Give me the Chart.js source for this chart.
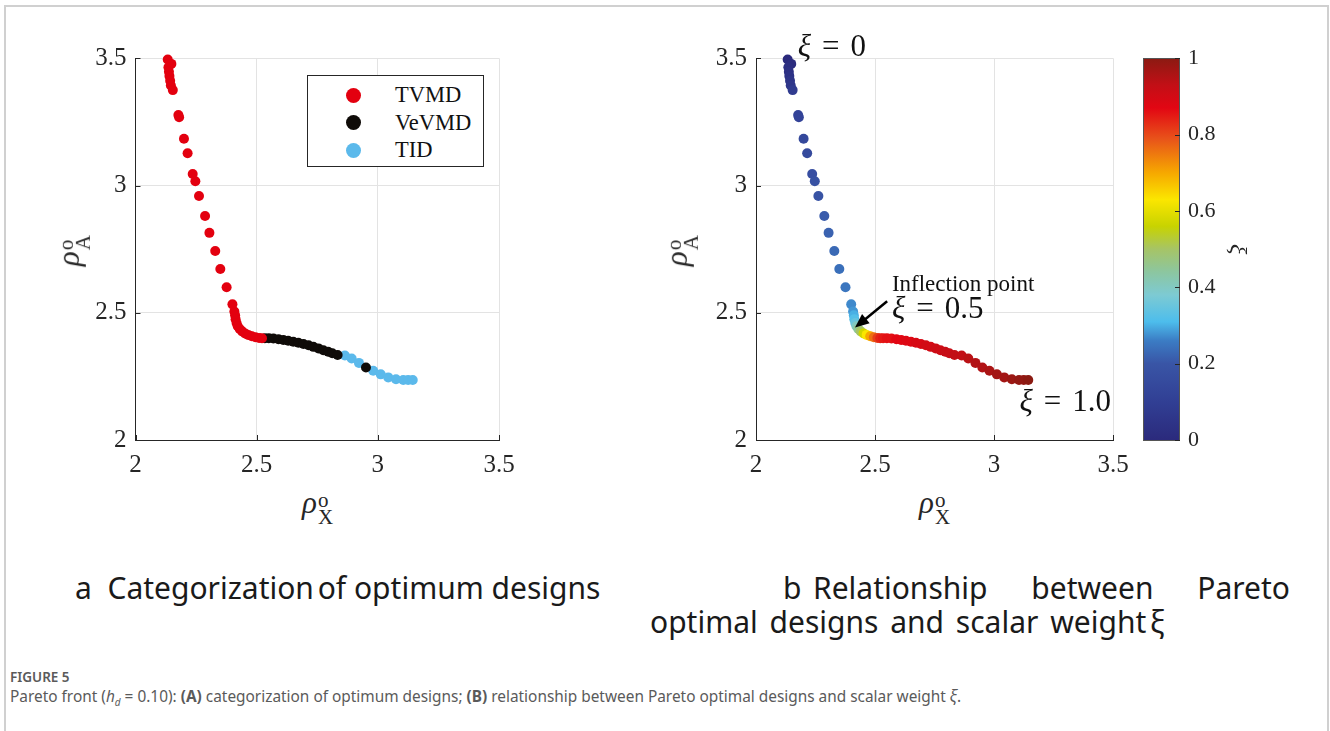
<!DOCTYPE html>
<html><head><meta charset="utf-8">
<script src="https://cdn.jsdelivr.net/npm/chart.js@4.4.0/dist/chart.umd.min.js"></script>
<style>
html,body{margin:0;padding:0;background:#fff;}
body{width:1330px;height:731px;position:relative;overflow:hidden;}
.frame{position:absolute;left:4px;top:5px;width:1321px;height:800px;border:2px solid #d0d0d0;border-bottom:none;}
.box{position:absolute;top:0;height:480px;}
.ax{position:absolute;font-family:'Liberation Serif',serif;color:#262626;white-space:nowrap;line-height:1;}
.ax i{font-size:31px;}
.ax .ss{display:inline-block;vertical-align:middle;font-size:21px;line-height:17px;text-align:left;margin-left:1px;}
.rot{transform:rotate(-90deg);transform-origin:center center;}
#legend{position:absolute;left:307px;top:75px;width:175px;height:90px;border:1px solid #262626;background:#fff;font-family:'Liberation Serif',serif;font-size:22.5px;color:#111;}
#legend .row{position:absolute;left:0;width:100%;height:26px;line-height:26px;}
#legend .dot{position:absolute;left:38px;top:5.5px;width:15px;height:15px;border-radius:50%;}
#legend .t{position:absolute;left:87px;top:0;}
.cap{position:absolute;font-family:'Noto Sans',sans-serif;font-size:30px;color:#1a1a1a;line-height:34px;white-space:nowrap;}
.fig{position:absolute;left:10px;font-family:'Noto Sans',sans-serif;color:#5a5a5a;white-space:nowrap;}
</style>
</head><body>
<div class="frame"></div>
<div class="box" style="left:0;width:620px;"><canvas id="cA"></canvas></div>
<div class="box" style="left:620px;width:520px;"><canvas id="cB"></canvas></div>
<div class="box" style="left:1140px;width:190px;"><canvas id="cC"></canvas></div>
<div id="legend"></div>

<div class="ax" style="left:302px;top:487px;"><i>ρ</i><span class="ss">o<br>X</span></div>
<div class="ax" style="left:919px;top:487px;"><i>ρ</i><span class="ss">o<br>X</span></div>
<div class="ax rot" style="left:57px;top:231px;"><i>ρ</i><span class="ss">o<br>A</span></div>
<div class="ax rot" style="left:665px;top:231px;"><i>ρ</i><span class="ss">o<br>A</span></div>

<div class="cap" style="left:75px;top:571px;">a&nbsp;&nbsp;Categorization<span style="margin-left:-4px"> </span>of optimum designs</div>
<div class="cap" style="left:783px;top:571px;">b</div>
<div class="cap" style="left:813px;top:571px;width:477px;text-align:justify;text-align-last:justify;white-space:normal;">Relationship between Pareto</div>
<div class="cap" style="left:650px;top:605px;word-spacing:4px;">optimal designs and scalar weight<span style="margin-left:-8px"> </span>ξ</div>
<div class="fig" style="top:668px;font-size:13.5px;font-weight:600;">FIGURE 5</div>
<div class="fig" style="top:686px;font-size:15.4px;">Pareto front (<i>h<sub style="font-size:10px">d</sub></i> = 0.10): <b>(A)</b> categorization of optimum designs; <b>(B)</b> relationship between Pareto optimal designs and scalar weight <i>ξ</i>.</div>

<script>
// ---- data ----
const frontX = [2.133,2.148,2.136,2.138,2.140,2.143,2.146,2.154,2.177,2.180,2.200,2.215,2.236,2.247,2.262,2.287,2.305,2.329,2.350,2.376,2.400,
  2.408,2.411,2.413,2.417,2.422,2.430,2.440,2.452,2.465,2.480,2.495,2.510,2.522,
  2.534,2.550,2.569,2.590,2.610,2.630,2.651,2.672,2.693,2.714,2.734,2.755,2.775,2.795,2.812,2.834,
  2.864,2.892,2.922,2.951,2.981,3.012,3.043,3.075,3.105,3.125,3.144];
const frontY = [3.495,3.478,3.465,3.447,3.430,3.412,3.393,3.375,3.277,3.268,3.184,3.127,3.045,3.017,2.959,2.880,2.814,2.743,2.672,2.600,2.533,
  2.505,2.490,2.475,2.460,2.447,2.436,2.427,2.419,2.413,2.408,2.404,2.401,2.400,
  2.400,2.400,2.399,2.396,2.393,2.390,2.386,2.382,2.377,2.372,2.366,2.360,2.353,2.347,2.341,2.334,
  2.332,2.320,2.303,2.285,2.272,2.258,2.246,2.239,2.236,2.236,2.236];
const frontXi = [0.00,0.01,0.02,0.03,0.04,0.05,0.06,0.08,0.12,0.12,0.14,0.15,0.17,0.18,0.19,0.21,0.22,0.23,0.24,0.25,0.27,
  0.28,0.30,0.32,0.35,0.40,0.45,0.50,0.57,0.63,0.70,0.76,0.81,0.84,
  0.85,0.86,0.86,0.87,0.87,0.88,0.88,0.89,0.89,0.90,0.90,0.91,0.91,0.92,0.92,0.93,
  0.93,0.94,0.95,0.95,0.96,0.97,0.97,0.98,0.99,0.99,1.00];
const frontClass = ['TVMD','TVMD','TVMD','TVMD','TVMD','TVMD','TVMD','TVMD','TVMD','TVMD','TVMD','TVMD','TVMD','TVMD','TVMD','TVMD','TVMD','TVMD','TVMD','TVMD','TVMD',
  'TVMD','TVMD','TVMD','TVMD','TVMD','TVMD','TVMD','TVMD','TVMD','TVMD','TVMD','TVMD','TVMD',
  'VeVMD','VeVMD','VeVMD','VeVMD','VeVMD','VeVMD','VeVMD','VeVMD','VeVMD','VeVMD','VeVMD','VeVMD','VeVMD','VeVMD','VeVMD','VeVMD',
  'TID','TID','TID','VeVMD','TID','TID','TID','TID','TID','TID','TID'];
const designClasses = ['TVMD','VeVMD','TID'];
const classColors = ['#e3000f','#0f0b08','#5bb9eb'];
const rhoTicks = [2,2.5,3,3.5];
const xiTicks = [0,0.2,0.4,0.6,0.8,1];

// ---- style helpers ----
const cmap = [[0,'#2b2a7c'],[0.1,'#313f94'],[0.2,'#3955a6'],[0.26,'#3b7cc4'],[0.31,'#4dbdec'],[0.38,'#7dcad3'],[0.44,'#8cc6a0'],[0.5,'#a6c466'],[0.56,'#c8d300'],[0.63,'#fbe600'],[0.7,'#f6a800'],[0.79,'#e8521a'],[0.87,'#e20613'],[0.93,'#c20f16'],[1,'#8b1a12']];
function hex2rgb(h){return [1,3,5].map(i=>parseInt(h.substr(i,2),16));}
function colorAt(v){
  for(let i=1;i<cmap.length;i++){ if(v<=cmap[i][0]){ const [a,ca]=cmap[i-1],[b,cb]=cmap[i]; const t=(v-a)/(b-a);
    const p=hex2rgb(ca),q=hex2rgb(cb); return 'rgb('+p.map((c,k)=>Math.round(c+(q[k]-c)*t)).join(',')+')'; } }
  return cmap[cmap.length-1][1];
}
const serif = 'Liberation Serif';
const tickColor = '#262626';
Chart.defaults.animation = false;

const inwardTicks = {
  id:'inwardTicks',
  afterDraw(chart){
    const {ctx, chartArea:a} = chart; const len = 5;
    ctx.save(); ctx.strokeStyle=tickColor; ctx.lineWidth=1;
    ['x','y'].forEach(id=>{ const s=chart.scales[id]; if(!s||!s.options.display) return;
      s.ticks.forEach(t=>{ const p=Math.round(s.getPixelForValue(t.value))+0.5; ctx.beginPath();
        if(id==='x'){ctx.moveTo(p,a.bottom);ctx.lineTo(p,a.bottom-len);} else {ctx.moveTo(a.left,p);ctx.lineTo(a.left+len,p);} ctx.stroke(); });
    });
    ctx.restore();
  }
};

function rhoScales(){
  const common = ()=>({type:'linear',min:2,max:3.5,
    afterBuildTicks:s=>{s.ticks=rhoTicks.map(v=>({value:v}));},
    ticks:{color:tickColor,font:{family:serif,size:25},padding:10,callback:v=>String(v)},
    grid:{color:'#e3e3e3',lineWidth:1,drawTicks:false},
    border:{display:true,color:tickColor,width:1}});
  const x = common(); x.afterFit = s=>{s.height=40;};
  const y = common(); y.afterFit = s=>{s.width=50;}; y.ticks = Object.assign({},y.ticks,{padding:9});
  return {x,y};
}

// ---- chart A: categorisation ----
const chartA = new Chart(document.getElementById('cA'),{
  type:'scatter',
  data:{datasets:designClasses.map((c,k)=>({
    label:c,
    data:frontX.map((x,i)=>({x,y:frontY[i],c:frontClass[i]})).filter(p=>p.c===c),
    pointRadius:5,pointHoverRadius:5,pointBorderWidth:0,clip:false,
    backgroundColor:classColors[k],borderColor:classColors[k]}))},
  options:{responsive:true,maintainAspectRatio:false,
    layout:{padding:{left:85.5,right:121,top:58.3,bottom:0}},
    plugins:{legend:{display:false},tooltip:{enabled:false}},
    scales:rhoScales()},
  plugins:[inwardTicks]
});

// html legend generated from datasets
const lg = document.getElementById('legend');
chartA.data.datasets.forEach((ds,k)=>{
  const r=document.createElement('div'); r.className='row'; r.style.top=(6+k*27.5)+'px';
  r.innerHTML='<span class="dot" style="background:'+ds.backgroundColor+'"></span><span class="t">'+ds.label+'</span>';
  lg.appendChild(r);
});

// ---- chart B: colored by xi ----
function drawParts(ctx,x,y,parts,size,gap){
  let cx=x;
  parts.forEach(([txt,sty])=>{ ctx.font=(sty?sty+' ':'')+size+'px "'+serif+'"'; ctx.fillText(txt,cx,y); cx+=ctx.measureText(txt).width+gap; });
}
const xiNotes = {
  id:'xiNotes',
  afterDraw(chart){
    const {ctx} = chart; const X=chart.scales.x, Y=chart.scales.y;
    ctx.save(); ctx.fillStyle='#111'; ctx.textBaseline='middle'; ctx.textAlign='left';
    drawParts(ctx,X.getPixelForValue(2.175),Y.getPixelForValue(3.54),[['ξ','italic'],['=',''],['0','']],31,11);
    ctx.font='23px "'+serif+'"'; ctx.fillText('Inflection point',X.getPixelForValue(2.571),Y.getPixelForValue(2.611));
    drawParts(ctx,X.getPixelForValue(2.571),Y.getPixelForValue(2.513),[['ξ','italic'],['=',''],['0.5','']],31,11);
    drawParts(ctx,X.getPixelForValue(3.107),Y.getPixelForValue(2.146),[['ξ','italic'],['=',''],['1.0','']],31,11);
    // arrow
    const x1=X.getPixelForValue(2.551),y1=Y.getPixelForValue(2.545),x2=X.getPixelForValue(2.416),y2=Y.getPixelForValue(2.442);
    const ang=Math.atan2(y2-y1,x2-x1), hl=14, hw=6;
    ctx.strokeStyle='#000'; ctx.lineWidth=2.5; ctx.beginPath(); ctx.moveTo(x1,y1);
    ctx.lineTo(x2-Math.cos(ang)*hl*0.8,y2-Math.sin(ang)*hl*0.8); ctx.stroke();
    ctx.fillStyle='#000'; ctx.beginPath(); ctx.moveTo(x2,y2);
    ctx.lineTo(x2-Math.cos(ang)*hl-Math.sin(ang)*hw, y2-Math.sin(ang)*hl+Math.cos(ang)*hw);
    ctx.lineTo(x2-Math.cos(ang)*hl+Math.sin(ang)*hw, y2-Math.sin(ang)*hl-Math.cos(ang)*hw);
    ctx.closePath(); ctx.fill();
    ctx.restore();
  }
};
const chartB = new Chart(document.getElementById('cB'),{
  type:'scatter',
  data:{datasets:[{label:'ξ',
    data:frontX.map((x,i)=>({x,y:frontY[i]})),
    pointRadius:5,pointHoverRadius:5,pointBorderWidth:0,clip:false,
    pointBackgroundColor:frontXi.map(colorAt),pointBorderColor:frontXi.map(colorAt)}]},
  options:{responsive:true,maintainAspectRatio:false,
    layout:{padding:{left:86,right:27,top:58.3,bottom:0}},
    plugins:{legend:{display:false},tooltip:{enabled:false}},
    scales:rhoScales()},
  plugins:[inwardTicks,xiNotes]
});

// ---- colorbar ----
const colorbar = {
  id:'colorbar',
  beforeDatasetsDraw(chart){
    const {ctx,chartArea:a}=chart; const Y=chart.scales.y;
    const g=ctx.createLinearGradient(0,Y.getPixelForValue(0),0,Y.getPixelForValue(1));
    cmap.forEach(([v,c])=>g.addColorStop(v,c));
    ctx.save(); ctx.fillStyle=g; ctx.fillRect(a.left,a.top,a.right-a.left,a.bottom-a.top);
    ctx.strokeStyle='#555'; ctx.lineWidth=1; ctx.strokeRect(Math.round(a.left)+0.5,Math.round(a.top)+0.5,Math.round(a.right-a.left)-1,Math.round(a.bottom-a.top));
    ctx.strokeStyle=tickColor;
    Y.ticks.forEach(t=>{const p=Math.round(Y.getPixelForValue(t.value))+0.5; ctx.beginPath(); ctx.moveTo(a.right,p); ctx.lineTo(a.right-5,p); ctx.stroke();});
    ctx.restore();
  }
};
new Chart(document.getElementById('cC'),{
  type:'scatter',
  data:{datasets:[{label:'ξ',data:[]}]},
  options:{responsive:true,maintainAspectRatio:false,
    layout:{padding:{left:3,right:78,top:58.3,bottom:40}},
    plugins:{legend:{display:false},tooltip:{enabled:false}},
    scales:{
      x:{display:false,min:0,max:1},
      y:{position:'right',min:0,max:1,
        afterBuildTicks:s=>{s.ticks=xiTicks.map(v=>({value:v}));},
        afterFit:s=>{s.width=72;},
        ticks:{color:tickColor,font:{family:serif,size:22},padding:8,callback:v=>String(v)},
        grid:{display:false,drawTicks:false},border:{display:false},
        title:{display:true,text:'ξ',color:tickColor,font:{family:serif,size:24,style:'italic'},padding:0}}
    }},
  plugins:[colorbar]
});
</script>
</body></html>
